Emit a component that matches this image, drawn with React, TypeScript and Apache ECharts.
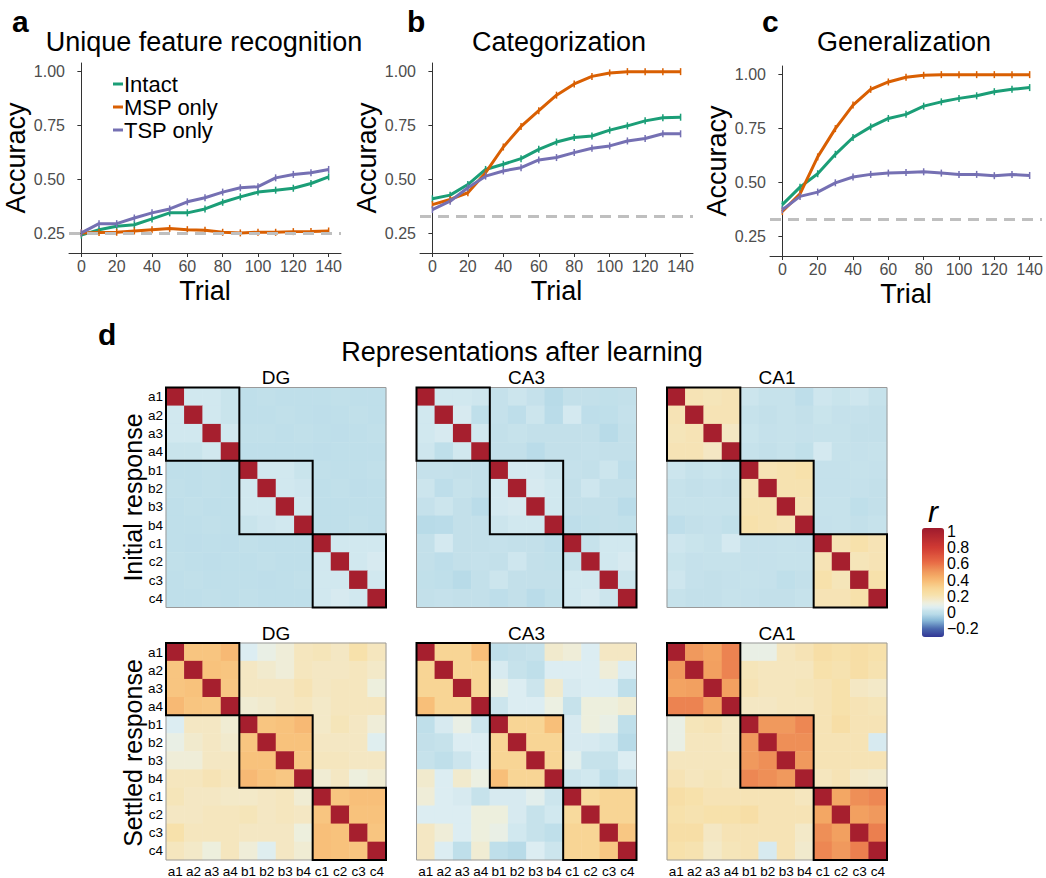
import React, { useEffect, useRef } from 'react';
import * as echarts from 'echarts';

// ---------- data: learning curves ----------
const trials = [0, 10, 20, 30, 40, 50, 60, 70, 80, 90, 100, 110, 120, 130, 140];
const seriesNames = ['Intact', 'MSP only', 'TSP only'];
const seriesColors = ['#1b9e77', '#d95f02', '#7570b3'];

const uniqueIntact = [0.243, 0.268, 0.284, 0.291, 0.318, 0.346, 0.346, 0.364, 0.395, 0.420, 0.442, 0.451, 0.460, 0.482, 0.513];
const uniqueMSP = [0.253, 0.255, 0.256, 0.262, 0.268, 0.274, 0.268, 0.265, 0.256, 0.253, 0.256, 0.256, 0.259, 0.260, 0.262];
const uniqueTSP = [0.253, 0.296, 0.296, 0.322, 0.346, 0.364, 0.397, 0.416, 0.442, 0.462, 0.467, 0.508, 0.524, 0.532, 0.547];

const catIntact = [0.411, 0.428, 0.477, 0.547, 0.571, 0.597, 0.640, 0.674, 0.695, 0.702, 0.729, 0.749, 0.772, 0.786, 0.789];
const catMSP = [0.384, 0.408, 0.439, 0.532, 0.651, 0.746, 0.819, 0.891, 0.943, 0.978, 0.994, 1.0, 1.0, 1.0, 1.0];
const catTSP = [0.361, 0.400, 0.462, 0.516, 0.540, 0.555, 0.591, 0.602, 0.625, 0.645, 0.656, 0.679, 0.690, 0.712, 0.712];

const genIntact = [0.398, 0.479, 0.541, 0.631, 0.709, 0.758, 0.797, 0.816, 0.854, 0.874, 0.890, 0.902, 0.921, 0.932, 0.940];
const genMSP = [0.366, 0.448, 0.619, 0.750, 0.859, 0.932, 0.966, 0.988, 0.997, 1.0, 1.0, 1.0, 1.0, 1.0, 1.0];
const genTSP = [0.374, 0.436, 0.456, 0.499, 0.526, 0.538, 0.544, 0.547, 0.550, 0.544, 0.538, 0.538, 0.532, 0.538, 0.533];

const panelTitles = ['Unique feature recognition', 'Categorization', 'Generalization'];
const chanceLevels = [0.25, 1 / 3, 1 / 3];
const xTicks = [0, 20, 40, 60, 80, 100, 120, 140];
const yTicks = [0.25, 0.5, 0.75, 1.0];

// ---------- data: representational similarity (lower triangles, diagonal = 1) ----------
const itemLabels = ['a1', 'a2', 'a3', 'a4', 'b1', 'b2', 'b3', 'b4', 'c1', 'c2', 'c3', 'c4'];
const regionNames = ['DG', 'CA3', 'CA1'];

const initialDG = [
  [],
  [0.04],
  [0.04, 0.04],
  [0.025, 0.025, 0.04],
  [0.0, 0.0, 0.005, 0.0],
  [0.005, 0.0, 0.005, 0.0, 0.04],
  [0.0, 0.005, 0.0, 0.0, 0.04, 0.04],
  [0.0, 0.0, 0.005, 0.0, 0.025, 0.035, 0.04],
  [0.0, -0.005, 0.0, -0.005, 0.005, 0.0, 0.0, 0.0],
  [0.005, 0.0, -0.005, 0.0, 0.0, 0.005, 0.0, 0.0, 0.04],
  [0.0, 0.005, 0.0, 0.0, 0.0, -0.005, 0.0, 0.005, 0.04, 0.04],
  [0.0, 0.0, 0.005, 0.0, 0.005, 0.0, 0.0, 0.0, 0.04, 0.05, 0.04],
];
const initialCA3 = [
  [],
  [0.04],
  [0.04, 0.05],
  [0.035, 0.0, 0.04],
  [0.015, 0.015, 0.01, 0.01],
  [0.03, -0.005, 0.02, 0.01, 0.045],
  [0.015, 0.03, 0.01, -0.015, 0.045, 0.05],
  [-0.02, -0.015, 0.01, 0.01, 0.03, 0.04, 0.04],
  [0.01, 0.045, 0.01, 0.01, 0.015, 0.01, 0.01, -0.005],
  [0.01, -0.005, 0.01, 0.015, 0.01, 0.035, 0.01, 0.005, 0.02],
  [0.005, 0.0, -0.02, 0.01, 0.03, 0.01, 0.01, 0.01, 0.04, 0.04],
  [0.01, 0.015, 0.01, 0.01, -0.005, 0.01, -0.015, 0.005, 0.04, 0.05, 0.03],
];
const initialCA1 = [
  [],
  [0.2],
  [0.19, 0.2],
  [0.2, 0.2, 0.17],
  [0.03, 0.02, 0.025, 0.02],
  [0.02, 0.01, 0.015, 0.01, 0.2],
  [0.02, 0.02, 0.02, 0.02, 0.21, 0.21],
  [-0.005, 0.01, 0.015, 0.005, 0.22, 0.21, 0.2],
  [0.035, 0.025, 0.02, 0.045, 0.015, 0.015, 0.02, 0.015],
  [0.025, 0.015, 0.02, 0.02, 0.015, 0.015, 0.02, 0.02, 0.2],
  [0.035, 0.015, 0.01, 0.015, 0.02, 0.015, 0.0, 0.01, 0.22, 0.19],
  [0.02, 0.01, 0.01, 0.02, 0.015, 0.01, 0.01, 0.02, 0.2, 0.2, 0.22],
];
const settledDG = [
  [],
  [0.36],
  [0.36, 0.37],
  [0.4, 0.36, 0.35],
  [0.06, 0.17, 0.17, 0.14],
  [0.1, 0.15, 0.17, 0.15, 0.36],
  [0.13, 0.13, 0.17, 0.17, 0.37, 0.37],
  [0.18, 0.18, 0.2, 0.18, 0.4, 0.37, 0.35],
  [0.19, 0.17, 0.17, 0.16, 0.16, 0.17, 0.18, 0.14],
  [0.17, 0.17, 0.18, 0.18, 0.19, 0.17, 0.18, 0.17, 0.36],
  [0.22, 0.18, 0.18, 0.18, 0.17, 0.17, 0.17, 0.12, 0.38, 0.37],
  [0.18, 0.16, 0.12, 0.18, 0.13, 0.07, 0.17, 0.14, 0.38, 0.37, 0.36],
];
const settledCA3 = [
  [],
  [0.3],
  [0.3, 0.3],
  [0.38, 0.3, 0.3],
  [0.0, 0.05, 0.1, 0.03],
  [0.01, 0.02, 0.06, 0.06, 0.3],
  [0.02, 0.0, 0.03, 0.06, 0.3, 0.3],
  [0.15, 0.06, 0.15, 0.11, 0.38, 0.3, 0.3],
  [0.13, 0.06, 0.05, 0.02, 0.05, 0.05, 0.08, 0.03],
  [0.06, 0.06, 0.06, 0.12, 0.12, 0.05, 0.02, 0.04, 0.27],
  [0.17, 0.13, 0.06, 0.12, 0.1, 0.04, 0.02, 0.0, 0.3, 0.3],
  [0.17, 0.06, 0.0, 0.14, 0.0, -0.02, 0.06, 0.03, 0.3, 0.3, 0.35],
];
const settledCA1 = [
  [],
  [0.5],
  [0.47, 0.48],
  [0.56, 0.56, 0.48],
  [0.1, 0.19, 0.2, 0.17],
  [0.1, 0.18, 0.18, 0.17, 0.5],
  [0.18, 0.18, 0.18, 0.18, 0.5, 0.53],
  [0.2, 0.18, 0.19, 0.18, 0.55, 0.53, 0.5],
  [0.24, 0.22, 0.2, 0.2, 0.2, 0.2, 0.2, 0.18],
  [0.22, 0.21, 0.22, 0.22, 0.24, 0.2, 0.2, 0.2, 0.46],
  [0.24, 0.24, 0.17, 0.2, 0.2, 0.2, 0.2, 0.16, 0.53, 0.48],
  [0.22, 0.21, 0.16, 0.19, 0.2, 0.05, 0.2, 0.15, 0.55, 0.5, 0.57],
];
const blocks = [[0, 3], [4, 7], [8, 11]];
const colorbarTicks = [-0.2, 0, 0.2, 0.4, 0.6, 0.8, 1];

// colour scale stops (value -> colour)
const colorStops: [number, string][] = [
  [-0.3, '#313695'], [-0.2, '#4a68ad'], [-0.1, '#86b6d6'], [-0.02, '#b8dbe8'],
  [0.02, '#c6e2eb'], [0.06, '#dcedf2'], [0.11, '#ecf0e2'], [0.17, '#f4e7c3'],
  [0.22, '#f7e1ab'], [0.3, '#f8d595'], [0.37, '#f8c27c'], [0.45, '#f4aa66'],
  [0.53, '#ee8f57'], [0.62, '#e86a45'], [0.8, '#d03a33'], [1.04, '#9e1a2d'],
];
const cMin = -0.3;
const cMax = 1.04;

const FONT = 'Liberation Sans, Arial, Helvetica, sans-serif';

function hexToRgb(h: string) {
  const n = parseInt(h.slice(1), 16);
  return [(n >> 16) & 255, (n >> 8) & 255, n & 255];
}
function colorAt(v: number) {
  for (let i = 0; i < colorStops.length - 1; i++) {
    const [v0, c0] = colorStops[i];
    const [v1, c1] = colorStops[i + 1];
    if (v <= v1 || i === colorStops.length - 2) {
      const t = Math.max(0, Math.min(1, (v - v0) / (v1 - v0)));
      const a = hexToRgb(c0), b = hexToRgb(c1);
      const r = a.map((x, k) => Math.round(x + (b[k] - x) * t));
      return `rgb(${r[0]},${r[1]},${r[2]})`;
    }
  }
  return colorStops[colorStops.length - 1][1];
}
function fullMatrix(lower: number[][]) {
  const n = itemLabels.length;
  const m: number[][] = Array.from({ length: n }, () => new Array(n).fill(1));
  for (let i = 0; i < n; i++) for (let j = 0; j < i; j++) {
    m[i][j] = lower[i][j];
    m[j][i] = lower[i][j];
  }
  return m;
}

export default function App() {
  const ref = useRef<HTMLDivElement>(null);
  useEffect(() => {
    document.body.style.margin = '0';
    const chart = echarts.init(ref.current!, null, { renderer: 'svg' });

    const curves = [
      [uniqueIntact, uniqueMSP, uniqueTSP],
      [catIntact, catMSP, catTSP],
      [genIntact, genMSP, genTSP],
    ];
    const lineGrids = [
      { left: 69, top: 63, width: 272, height: 190 },
      { left: 420, top: 63, width: 273, height: 190 },
      { left: 770, top: 66, width: 273, height: 190 },
    ];
    const hmLefts = [166, 416.5, 667];
    const hmTops = [387.5, 643];
    const hmSize = 220;
    const matrices = [
      [initialDG, initialCA3, initialCA1],
      [settledDG, settledCA3, settledCA1],
    ];

    const grids: any[] = [];
    const xAxes: any[] = [];
    const yAxes: any[] = [];
    const series: any[] = [];
    const graphics: any[] = [];

    // line panels
    lineGrids.forEach((g, p) => {
      grids.push({ ...g, containLabel: false });
      xAxes.push({
        gridIndex: p, type: 'value', min: -7, max: 147,
        axisLine: { show: true, onZero: false, lineStyle: { color: '#333', width: 1 } },
        axisTick: { show: true, length: 4, customValues: xTicks, lineStyle: { color: '#333' } },
        axisLabel: { customValues: xTicks, color: '#4d4d4d', fontSize: 16, margin: 5, fontFamily: FONT },
        splitLine: { show: false },
        name: 'Trial', nameLocation: 'middle', nameGap: 24,
        nameTextStyle: { fontSize: 27, color: '#000', fontFamily: FONT },
      });
      yAxes.push({
        gridIndex: p, type: 'value', min: 0.16, max: 1.04,
        axisLine: { show: true, lineStyle: { color: '#333', width: 1 } },
        axisTick: { show: true, length: 4, customValues: yTicks, lineStyle: { color: '#333' } },
        axisLabel: { customValues: yTicks, formatter: (v: number) => v.toFixed(2), color: '#4d4d4d', fontSize: 16, margin: 4, fontFamily: FONT },
        splitLine: { show: false },
        name: 'Accuracy', nameLocation: 'middle', nameGap: 33, nameRotate: 90,
        nameTextStyle: { fontSize: 27, color: '#000', fontFamily: FONT },
      });
      series.push({
        type: 'line', xAxisIndex: p, yAxisIndex: p, data: [], silent: true, z: 1,
        markLine: {
          silent: true, symbol: 'none', label: { show: false },
          lineStyle: { color: '#bfbfbf', width: 3, type: [11, 7] },
          data: [{ yAxis: chanceLevels[p] }],
        },
      });
      curves[p].forEach((vals, s) => {
        series.push({
          type: 'line', name: seriesNames[s], xAxisIndex: p, yAxisIndex: p, z: 3,
          data: trials.map((t, j) => [t, vals[j]]),
          symbol: 'rect', symbolSize: [1.5, 7], showAllSymbol: true,
          lineStyle: { width: 3, color: seriesColors[s] },
          itemStyle: { color: seriesColors[s] },
        });
      });
      graphics.push({
        type: 'text', x: [204, 559, 904][p], y: 42,
        style: { text: panelTitles[p], font: `27px ${FONT}`, fill: '#000', textAlign: 'center', textVerticalAlign: 'middle' },
      });
      graphics.push({
        type: 'text', x: [12, 407, 762][p], y: 21,
        style: { text: ['a', 'b', 'c'][p], font: `bold 30px ${FONT}`, fill: '#000', textAlign: 'left', textVerticalAlign: 'middle' },
      });
    });

    // heatmaps
    const hmSeriesIdx: number[] = [];
    matrices.forEach((row, r) => {
      row.forEach((lower, c) => {
        const gi = grids.length;
        grids.push({ left: hmLefts[c], top: hmTops[r], width: hmSize, height: hmSize, containLabel: false });
        xAxes.push({
          gridIndex: gi, type: 'category', data: itemLabels,
          axisLine: { show: false }, axisTick: { show: false }, splitLine: { show: false },
          axisLabel: { show: r === 1, color: '#000', fontSize: 13.5, margin: 4, interval: 0, fontFamily: FONT },
        });
        yAxes.push({
          gridIndex: gi, type: 'category', data: itemLabels, inverse: true,
          axisLine: { show: false }, axisTick: { show: false }, splitLine: { show: false },
          axisLabel: { show: c === 0, color: '#000', fontSize: 13.5, margin: 3, interval: 0, fontFamily: FONT },
        });
        const m = fullMatrix(lower);
        const data: number[][] = [];
        for (let i = 0; i < itemLabels.length; i++)
          for (let j = 0; j < itemLabels.length; j++) data.push([j, i, m[i][j]]);
        hmSeriesIdx.push(series.length);
        series.push({
          type: 'heatmap', xAxisIndex: gi, yAxisIndex: gi, data, z: 2,
          itemStyle: { borderWidth: 0 },
        });
        series.push({
          type: 'custom', xAxisIndex: gi, yAxisIndex: gi, z: 4, silent: true,
          data: [[0, 11, 0], ...blocks.map((b) => [b[0], b[1], 1])],
          renderItem: (params: any, api: any) => {
            const s = api.value(0), e = api.value(1), kind = api.value(2);
            const p0 = api.coord([s, s]);
            const p1 = api.coord([e, e]);
            const sz = api.size([1, 1]);
            return {
              type: 'rect',
              shape: { x: p0[0] - sz[0] / 2, y: p0[1] - sz[1] / 2, width: p1[0] - p0[0] + sz[0], height: p1[1] - p0[1] + sz[1] },
              style: kind === 1 ? { fill: 'none', stroke: '#000', lineWidth: 2 } : { fill: 'none', stroke: '#9a9a9a', lineWidth: 1 },
            };
          },
        });
        graphics.push({
          type: 'text', x: hmLefts[c] + hmSize / 2, y: hmTops[r] - 10,
          style: { text: regionNames[c], font: `19px ${FONT}`, fill: '#000', textAlign: 'center', textVerticalAlign: 'middle' },
        });
      });
    });

    // colour bar axis
    const cbi = grids.length;
    grids.push({ left: 922, top: 528, width: 22, height: 109, containLabel: false });
    xAxes.push({ gridIndex: cbi, type: 'value', show: false, min: 0, max: 1 });
    yAxes.push({
      gridIndex: cbi, type: 'value', position: 'right', min: cMin, max: cMax,
      axisLine: { show: false },
      axisTick: { show: true, inside: true, length: 4, customValues: colorbarTicks, lineStyle: { color: 'rgba(255,255,255,0.8)' } },
      axisLabel: {
        customValues: colorbarTicks, color: '#000', fontSize: 16, margin: 3, fontFamily: FONT,
        formatter: (v: number) => (v < 0 ? '\u2212' + String(Math.abs(v)) : String(v)),
      },
      splitLine: { show: false },
    });
    series.push({ type: 'scatter', xAxisIndex: cbi, yAxisIndex: cbi, data: [], silent: true });

    const nColors = 135;
    const cbColors: string[] = [];
    for (let k = 0; k < nColors; k++) cbColors.push(colorAt(cMin + ((cMax - cMin) * k) / (nColors - 1)));

    graphics.push(
      { type: 'text', x: 98, y: 334, style: { text: 'd', font: `bold 30px ${FONT}`, fill: '#000', textAlign: 'left', textVerticalAlign: 'middle' } },
      { type: 'text', x: 522, y: 352, style: { text: 'Representations after learning', font: `27px ${FONT}`, fill: '#000', textAlign: 'center', textVerticalAlign: 'middle' } },
      { type: 'text', x: 133, y: hmTops[0] + hmSize / 2, rotation: Math.PI / 2, style: { text: 'Initial response', font: `25px ${FONT}`, fill: '#000', textAlign: 'center', textVerticalAlign: 'middle' } },
      { type: 'text', x: 133, y: hmTops[1] + hmSize / 2, rotation: Math.PI / 2, style: { text: 'Settled response', font: `25px ${FONT}`, fill: '#000', textAlign: 'center', textVerticalAlign: 'middle' } },
      { type: 'text', x: 933, y: 511, style: { text: 'r', font: `italic 30px ${FONT}`, fill: '#000', textAlign: 'center', textVerticalAlign: 'middle' } },
    );

    chart.setOption({
      animation: false,
      textStyle: { fontFamily: FONT },
      grid: grids,
      xAxis: xAxes,
      yAxis: yAxes,
      legend: {
        left: 108, top: 68, orient: 'vertical', itemWidth: 10, itemHeight: 3, itemGap: 1,
        data: seriesNames.map((n) => ({ name: n, icon: 'rect' })),
        textStyle: { fontSize: 22, color: '#000', fontFamily: FONT, padding: [0, 0, 0, -4] },
        selectedMode: false,
      },
      visualMap: {
        type: 'continuous', min: cMin, max: cMax, seriesIndex: hmSeriesIdx,
        left: 922, top: 528, itemWidth: 22, itemHeight: 109, padding: 0,
        calculable: false, text: null, showLabel: false, hoverLink: false,
        inRange: { color: cbColors },
      },
      graphic: graphics,
      series,
    });
    return () => chart.dispose();
  }, []);
  return <div ref={ref} style={{ width: 1046, height: 878 }} />;
}
